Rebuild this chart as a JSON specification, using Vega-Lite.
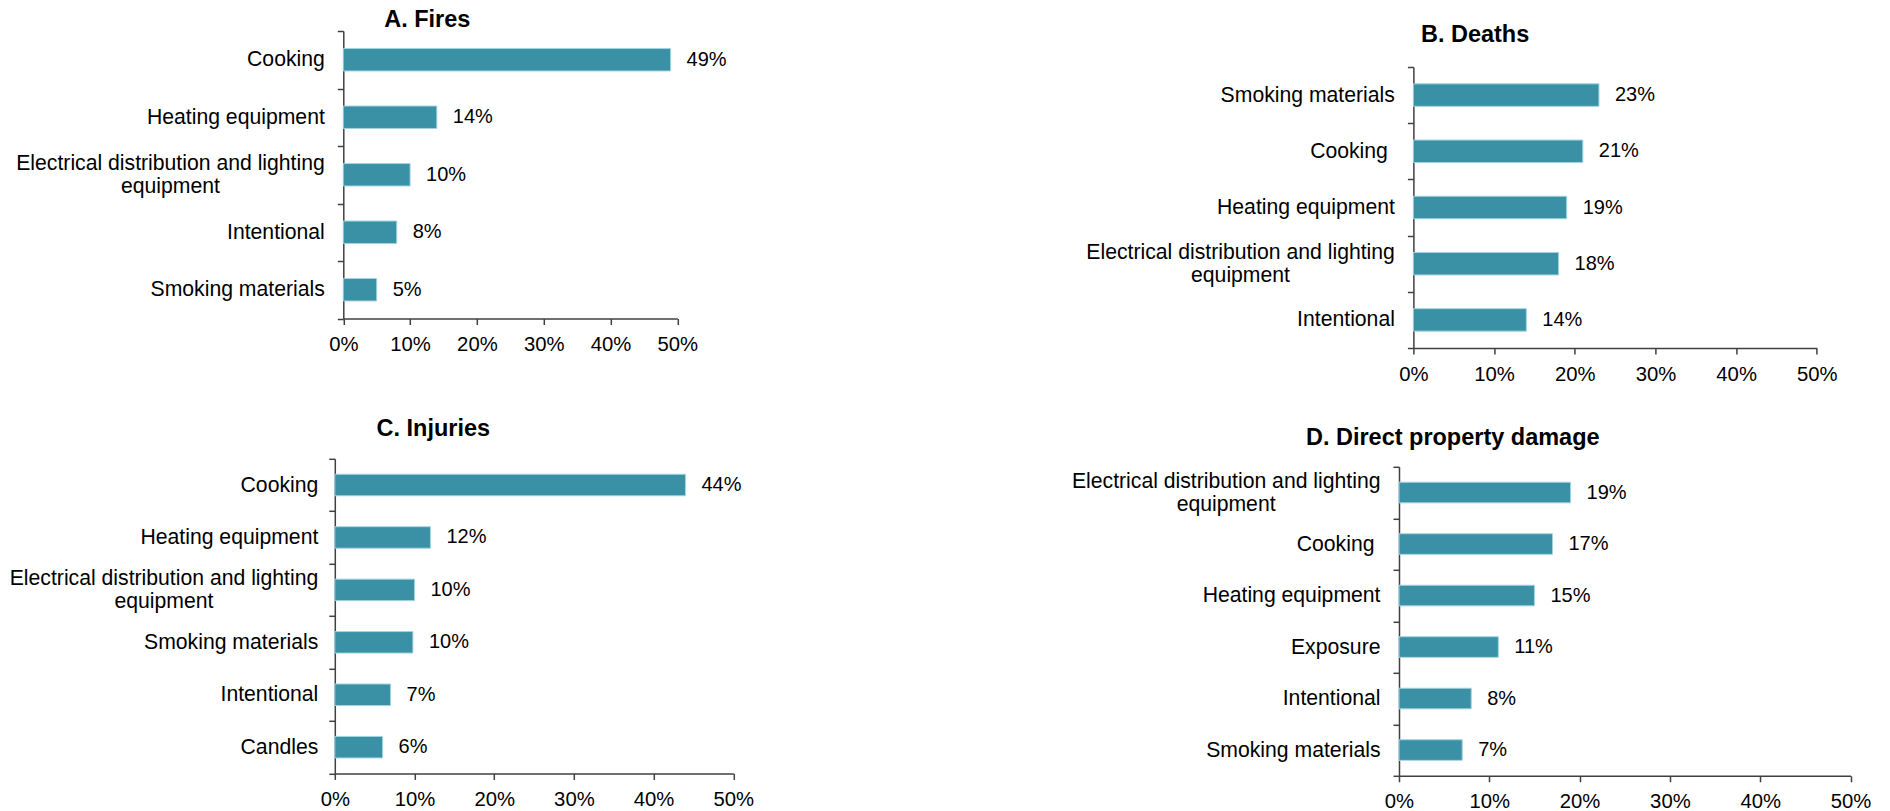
{
  "$schema": "https://vega.github.io/schema/vega-lite/v6.json",
  "padding": {"left": 8.8, "top": 8, "right": 0, "bottom": 0},
  "config": {
    "font": "Liberation Sans",
    "view": {"stroke": null},
    "axis": {"domainColor": "#404040", "domainWidth": 1.5, "tickColor": "#404040", "tickWidth": 1.5, "tickSize": 6, "labelColor": "#000000", "labelFont": "Liberation Sans", "grid": false},
    "axisX": {"labelFontSize": 20.3, "labelPadding": 10, "labelFlush": false, "labelOverlap": false},
    "axisY": {"labelFontSize": 21.2, "labelPadding": 13, "labelLimit": 600, "tickBand": "extent",
      "labelBaseline": {"condition": {"test": "datum.value == 'Electrical distribution and lighting equipment'", "value": "line-bottom"}, "value": "middle"}},
    "title": {"font": "Liberation Sans", "fontSize": 23.5, "fontWeight": "bold", "color": "#000000", "anchor": "middle", "baseline": "bottom"}
  },
  "spacing": 30.8,
  "vconcat": [
    {
      "spacing": 358.6,
      "hconcat": [
        {
          "width": 342.5, "height": 287.5,
          "title": {"text": "A. Fires", "dx": -78.75, "offset": -11.7},
          "data": {"values": [
            {"cause": "Cooking", "share": 0.49},
            {"cause": "Heating equipment", "share": 0.14},
            {"cause": "Electrical distribution and lighting equipment", "share": 0.10},
            {"cause": "Intentional", "share": 0.08},
            {"cause": "Smoking materials", "share": 0.05}
          ]},
          "encoding": {
            "x": {"field": "share", "type": "quantitative", "scale": {"domain": [0, 0.5], "nice": false, "range": [8.5, 342.5]},
              "axis": {"title": null, "values": [0, 0.1, 0.2, 0.3, 0.4, 0.5], "format": ".0%"}}
          },
          "layer": [
            {"mark": {"type": "bar", "height": {"band": 0.39}, "color": "#3A91A6", "stroke": "#A3D3DF", "strokeWidth": 1},
             "encoding": {"y": {"field": "cause", "type": "nominal", "sort": null, "scale": {"paddingInner": 0, "paddingOuter": 0},
               "axis": {"title": null, "offset": -8.5, "labelExpr": "datum.value == 'Electrical distribution and lighting equipment' ? 'Electrical distribution and lighting' : datum.value"}}}},
            {"mark": {"type": "text", "align": "left", "baseline": "middle", "dx": 16, "fontSize": 20, "color": "#000000"},
             "encoding": {
               "y": {"field": "cause", "type": "nominal", "sort": null, "scale": {"paddingInner": 0, "paddingOuter": 0},
                 "axis": {"title": null, "orient": "left", "offset": -8.5, "domain": false, "ticks": false, "tickSize": 0, "labelAlign": "center", "labelBaseline": "middle", "labelOffset": 11.5, "labelPadding": 173.4, "labelExpr": "datum.value == 'Electrical distribution and lighting equipment' ? 'equipment' : ''"}},
               "text": {"field": "share", "type": "quantitative", "format": ".0%"}}}
          ],
          "resolve": {"scale": {"y": "independent"}}
        },
        {
          "width": 403.4, "height": 317,
          "title": {"text": "B. Deaths", "dx": -140, "offset": -26.8},
          "data": {"values": [
            {"cause": "Smoking materials", "share": 0.23},
            {"cause": "Cooking", "share": 0.21},
            {"cause": "Heating equipment", "share": 0.19},
            {"cause": "Electrical distribution and lighting equipment", "share": 0.18},
            {"cause": "Intentional", "share": 0.14}
          ]},
          "encoding": {
            "x": {"field": "share", "type": "quantitative", "scale": {"domain": [0, 0.5], "nice": false},
              "axis": {"title": null, "values": [0, 0.1, 0.2, 0.3, 0.4, 0.5], "format": ".0%"}}
          },
          "layer": [
            {"mark": {"type": "bar", "height": {"band": 0.4}, "color": "#3A91A6", "stroke": "#A3D3DF", "strokeWidth": 1},
             "encoding": {"y": {"field": "cause", "type": "nominal", "sort": null, "scale": {"range": [36, 317], "paddingInner": 0, "paddingOuter": 0},
               "axis": {"title": null, "labelPadding": {"expr": "datum.value == 'Cooking' ? 20 : 13"}, "labelExpr": "datum.value == 'Electrical distribution and lighting equipment' ? 'Electrical distribution and lighting' : datum.value"}}}},
            {"mark": {"type": "text", "align": "left", "baseline": "middle", "dx": 16, "fontSize": 20, "color": "#000000"},
             "encoding": {
               "y": {"field": "cause", "type": "nominal", "sort": null, "scale": {"range": [36, 317], "paddingInner": 0, "paddingOuter": 0},
                 "axis": {"title": null, "orient": "left", "domain": false, "ticks": false, "tickSize": 0, "labelAlign": "center", "labelBaseline": "middle", "labelOffset": 11.5, "labelPadding": 173.4, "labelExpr": "datum.value == 'Electrical distribution and lighting equipment' ? 'equipment' : ''"}},
               "text": {"field": "share", "type": "quantitative", "format": ".0%"}}}
          ],
          "resolve": {"scale": {"y": "independent"}}
        }
      ]
    },
    {
      "spacing": 317.2,
      "hconcat": [
        {
          "width": 398.5, "height": 314.6,
          "title": {"text": "C. Injuries", "dx": -100.75, "offset": 7.6},
          "data": {"values": [
            {"cause": "Cooking", "share": 0.44},
            {"cause": "Heating equipment", "share": 0.12},
            {"cause": "Electrical distribution and lighting equipment", "share": 0.10},
            {"cause": "Smoking materials", "share": 0.098},
            {"cause": "Intentional", "share": 0.07},
            {"cause": "Candles", "share": 0.06}
          ]},
          "encoding": {
            "x": {"field": "share", "type": "quantitative", "scale": {"domain": [0, 0.5], "nice": false},
              "axis": {"title": null, "values": [0, 0.1, 0.2, 0.3, 0.4, 0.5], "format": ".0%"}}
          },
          "layer": [
            {"mark": {"type": "bar", "height": {"band": 0.41}, "color": "#3A91A6", "stroke": "#A3D3DF", "strokeWidth": 1},
             "encoding": {"y": {"field": "cause", "type": "nominal", "sort": null, "scale": {"paddingInner": 0, "paddingOuter": 0},
               "axis": {"title": null, "labelPadding": 11, "labelExpr": "datum.value == 'Electrical distribution and lighting equipment' ? 'Electrical distribution and lighting' : datum.value"}}}},
            {"mark": {"type": "text", "align": "left", "baseline": "middle", "dx": 16, "fontSize": 20, "color": "#000000"},
             "encoding": {
               "y": {"field": "cause", "type": "nominal", "sort": null, "scale": {"paddingInner": 0, "paddingOuter": 0},
                 "axis": {"title": null, "orient": "left", "domain": false, "ticks": false, "tickSize": 0, "labelAlign": "center", "labelBaseline": "middle", "labelOffset": 11.5, "labelPadding": 171.4, "labelExpr": "datum.value == 'Electrical distribution and lighting equipment' ? 'equipment' : ''"}},
               "text": {"field": "share", "type": "quantitative", "format": ".0%"}}}
          ],
          "resolve": {"scale": {"y": "independent"}}
        },
        {
          "width": 451.5, "height": 317,
          "title": {"text": "D. Direct property damage", "dx": -172, "offset": -2},
          "data": {"values": [
            {"cause": "Electrical distribution and lighting equipment", "share": 0.19},
            {"cause": "Cooking", "share": 0.17},
            {"cause": "Heating equipment", "share": 0.15},
            {"cause": "Exposure", "share": 0.11},
            {"cause": "Intentional", "share": 0.08},
            {"cause": "Smoking materials", "share": 0.07}
          ]},
          "encoding": {
            "x": {"field": "share", "type": "quantitative", "scale": {"domain": [0, 0.5], "nice": false},
              "axis": {"title": null, "values": [0, 0.1, 0.2, 0.3, 0.4, 0.5], "format": ".0%"}}
          },
          "layer": [
            {"mark": {"type": "bar", "height": {"band": 0.4}, "color": "#3A91A6", "stroke": "#A3D3DF", "strokeWidth": 1},
             "encoding": {"y": {"field": "cause", "type": "nominal", "sort": null, "scale": {"range": [8, 317], "paddingInner": 0, "paddingOuter": 0},
               "axis": {"title": null, "labelPadding": {"expr": "datum.value == 'Cooking' ? 19 : 13"}, "labelExpr": "datum.value == 'Electrical distribution and lighting equipment' ? 'Electrical distribution and lighting' : datum.value"}}}},
            {"mark": {"type": "text", "align": "left", "baseline": "middle", "dx": 16, "fontSize": 20, "color": "#000000"},
             "encoding": {
               "y": {"field": "cause", "type": "nominal", "sort": null, "scale": {"range": [8, 317], "paddingInner": 0, "paddingOuter": 0},
                 "axis": {"title": null, "orient": "left", "domain": false, "ticks": false, "tickSize": 0, "labelAlign": "center", "labelBaseline": "middle", "labelOffset": 11.5, "labelPadding": 173.4, "labelExpr": "datum.value == 'Electrical distribution and lighting equipment' ? 'equipment' : ''"}},
               "text": {"field": "share", "type": "quantitative", "format": ".0%"}}}
          ],
          "resolve": {"scale": {"y": "independent"}}
        }
      ]
    }
  ]
}
